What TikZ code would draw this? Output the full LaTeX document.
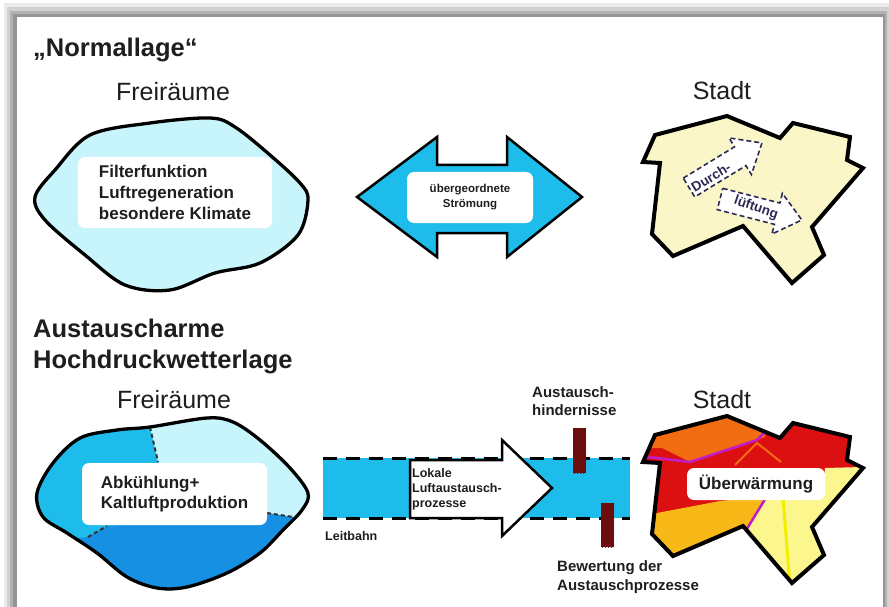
\documentclass[tikz,border=0pt]{standalone}
\usepackage{fontspec}
\setmainfont{Liberation Sans}
\usetikzlibrary{patterns}
\definecolor{lcyan}{HTML}{C8F5FB}
\definecolor{cyanb}{HTML}{1EBCEB}
\definecolor{deepb}{HTML}{1590E3}
\definecolor{cityy}{HTML}{FAF6C8}
\definecolor{cred}{HTML}{DC1010}
\definecolor{corange}{HTML}{F26C12}
\definecolor{cgold}{HTML}{F7B818}
\definecolor{clyellow}{HTML}{FBF78E}
\definecolor{cyell}{HTML}{F2EE00}
\definecolor{cmag}{HTML}{C21BC8}
\definecolor{obst}{HTML}{6A1414}
\definecolor{txt}{HTML}{1E1E1E}
\definecolor{navy}{HTML}{2D2A55}
\newcommand\citypath{(727,116) -- (780,138) -- (793,123) -- (850,137) -- (847,160) -- (863,168) -- (812,227) -- (824,255) -- (792,283) -- (743,226) -- (673,256) -- (652,234) -- (660,163) -- (643,162) -- (655,135) -- cycle}
\begin{document}
\begin{tikzpicture}[x=1pt,y=-1pt,
  headline/.style={font=\fontsize{25.5}{31}\selectfont\bfseries, text=txt, inner sep=0pt, anchor=base west},
  caption/.style={font=\fontsize{25}{30}\selectfont, text=txt, inner sep=0pt, anchor=base},
  wbox/.style={fill=white, rounded corners=7pt, inner sep=0pt, align=left, text=txt},
  blobline/.style={draw=black, line width=3.3pt, line join=round},
  cityline/.style={draw=black, line width=4pt, line join=miter},
  bandedge/.style={draw=black, line width=3pt, dash pattern=on 14pt off 9pt},
  sepline/.style={draw=black!80, line width=2pt, dash pattern=on 4pt off 3pt},
  lbl/.style={font=\fontsize{15}{18.5}\selectfont\bfseries, text=txt, inner sep=0pt, align=left},
  tinytext/.style={font=\fontsize{12.5}{15}\selectfont\bfseries, text=txt, inner sep=0pt, align=left},
  dasharrow/.style={draw=navy, line width=1.6pt, dash pattern=on 5pt off 3pt, fill=white, line join=miter},
  arrtext/.style={font=\fontsize{13.5}{16}\selectfont\bfseries, text=navy, inner sep=0pt},
]
\useasboundingbox (0,0) rectangle (889,607);
% frame with shadow
\fill[white] (0,0) rectangle (889,607);
\fill[black!8] (4,3) rectangle (889,620);
\fill[black!18] (7,7) rectangle (889,620);
\fill[black!30] (10,11) rectangle (887,620);
\fill[black!42] (13,14) rectangle (885,620);
\fill[white] (17,17) rectangle (883,620);

% headings
\node[headline] (h1) at (33,57) {„Normallage“};
\node[caption] (fr1) at (173,101) {Freiräume};
\node[caption] (st1) at (722,100) {Stadt};
\node[headline] (h2a) at (33,337) {Austauscharme};
\node[headline] (h2b) at (33,368) {Hochdruckwetterlage};
\node[caption] (fr2) at (174,408) {Freiräume};
\node[caption] (st2) at (722,408) {Stadt};

% upper blob
\draw[blobline, fill=lcyan] plot[smooth cycle, tension=0.55] coordinates {(35,197) (55,170) (90,135) (150,123) (210,118) (235,127) (270,155) (300,183) (308,200) (298,235) (260,263) (215,273) (170,290) (125,285) (85,255) (45,220)};
\node[wbox, minimum width=194pt, minimum height=71pt, font=\fontsize{17}{21}\selectfont\bfseries] (ftext) at (175,192.5) {Filterfunktion\\Luftregeneration\\besondere Klimate};

% double arrow
\draw[fill=cyanb, draw=black, line width=2.5pt, line join=miter] (357,197) -- (437,137) -- (437,165) -- (507,165) -- (507,137) -- (582,197) -- (507,257) -- (507,233) -- (437,233) -- (437,257) -- cycle;
\node[wbox, align=center, minimum width=126pt, minimum height=51pt, font=\fontsize{11.5}{15}\selectfont\bfseries] (strom) at (470,197.5) {übergeordnete\\Strömung};

% upper city
\draw[cityline, fill=cityy] \citypath;
\begin{scope}[shift={(689,187.5)}, rotate=31.4]
  \draw[dasharrow] (0,-11) -- (60,-11) -- (60,-21.5) -- (85.5,0) -- (60,21.5) -- (60,11) -- (0,11) -- cycle;
\end{scope}
\begin{scope}[shift={(720,199)}, rotate=-14.4]
  \draw[dasharrow] (0,-11) -- (59,-11) -- (59,-21) -- (84.5,0) -- (59,21) -- (59,11) -- (0,11) -- cycle;
\end{scope}
\node[arrtext, rotate=31.4] (durch) at (711,177) {Durch-};
\node[arrtext, rotate=-19] (lueft) at (756,208) {lüftung};

% lower blob
\begin{scope}
  \clip plot[smooth cycle, tension=0.55] coordinates {(37,493) (53,463) (80,438) (117,430) (150,427) (207,418) (233,422) (260,440) (290,468) (308,493) (302,510) (283,530) (260,553) (227,573) (187,587) (157,588) (127,577) (97,553) (67,533) (43,517)};
  \fill[lcyan] (20,400) rectangle (330,600);
  \fill[cyanb] (20,400) -- (150,400) -- (150,427) -- (158,462) -- (160,540) -- (20,560) -- cycle;
  \fill[deepb] (20,545) -- (88,537) -- (107,526) -- (267,513) -- (300,518) -- (330,518) -- (330,600) -- (20,600) -- cycle;
  \draw[sepline] (150,427) -- (158,462);
  \draw[sepline] (88,537) -- (107,526);
  \draw[sepline] (267,513) -- (300,518);
\end{scope}
\draw[blobline] plot[smooth cycle, tension=0.55] coordinates {(37,493) (53,463) (80,438) (117,430) (150,427) (207,418) (233,422) (260,440) (290,468) (308,493) (302,510) (283,530) (260,553) (227,573) (187,587) (157,588) (127,577) (97,553) (67,533) (43,517)};
\node[wbox, minimum width=185pt, minimum height=62pt, font=\fontsize{17}{20}\selectfont\bfseries] (ktext) at (174.5,494) {Abkühlung+\\Kaltluftproduktion};

% Leitbahn band
\fill[cyanb] (323,458) rectangle (630,518);
\coordinate (bandTL) at (323,458);
\coordinate (bandTR) at (630,458);
\coordinate (bandBL) at (323,518);
\coordinate (bandBR) at (630,518);
\draw[bandedge] (bandTL) -- (bandTR);
\draw[bandedge] (bandBL) -- (bandBR);
\node[tinytext, anchor=base west] (leit) at (325,540) {Leitbahn};
% white arrow
\draw[fill=white, draw=black, line width=2.5pt, line join=miter] (410,460) -- (502,460) -- (502,440) -- (552,488) -- (502,536) -- (502,518) -- (410,518) -- cycle;
\node[tinytext, anchor=west] (lokal) at (412,489) {Lokale\\Luftaustausch-\\prozesse};
% obstacles
\fill[obst] (573,428) rectangle (586,473);
\fill[pattern=north east lines, pattern color=red!45!black] (573,428) rectangle (586,473);
\fill[obst] (601,503) rectangle (614,547);
\fill[pattern=north east lines, pattern color=red!45!black] (601,503) rectangle (614,547);
\node[lbl, anchor=west] (hind) at (532,401) {Austausch-\\hindernisse};
\node[lbl, anchor=west] (bew) at (557,577) {Bewertung der\\Austauschprozesse};

% lower city
\begin{scope}[yshift=-300pt]
  \begin{scope}
    \clip \citypath;
    \fill[cred] (620,100) rectangle (880,300);
    \fill[corange] (620,100) -- (765,100) -- (765,137) -- (757,140) -- (690,162) -- (662,148) -- (620,148) -- cycle;
    \fill[cgold] (620,215) -- (657,213) -- (720,201) -- (767,196) -- (745,232) -- (740,310) -- (620,310) -- cycle;
    \fill[clyellow] (767,196) -- (745,232) -- (740,320) -- (900,320) -- (900,166) -- (825,168) -- (822,197) -- cycle;
    \draw[cmag, line width=2.5pt] (640,156) -- (690,162) -- (757,140) -- (767,130);
    \draw[cmag, line width=2.5pt] (767,196) -- (745,232);
    \draw[corange, line width=2pt] (735,165) -- (757,143) -- (781,162);
    \draw[cyell, line width=3pt] (783,198) -- (790,285);
  \end{scope}
  \draw[cityline] \citypath;
\end{scope}
\node[wbox, align=center, minimum width=138pt, minimum height=32pt, font=\fontsize{17}{20}\selectfont\bfseries] (uebw) at (756,484) {Überwärmung};
\end{tikzpicture}
\end{document}
